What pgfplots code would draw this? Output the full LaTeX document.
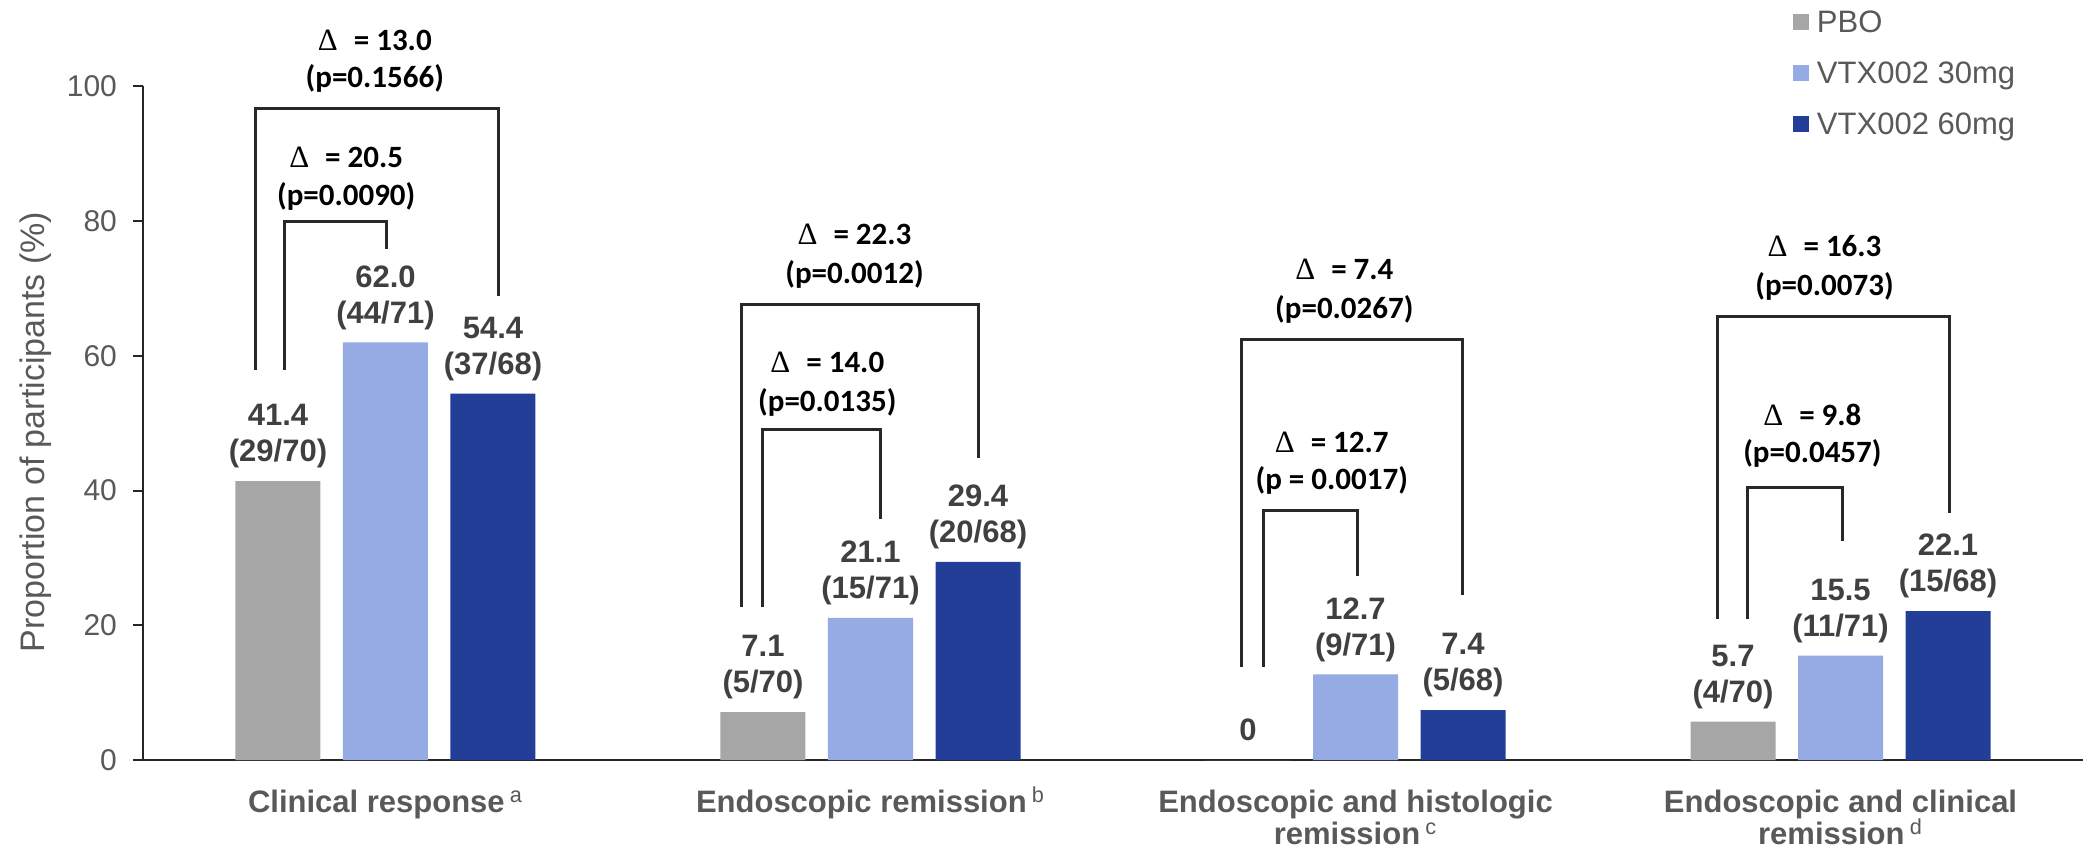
\documentclass[border=0pt]{standalone}
\usepackage{fontspec}
\setmainfont{Liberation Sans}
\newfontfamily\annfont{Carlito}
\newfontfamily\deltafont{Liberation Serif}
\usepackage{pgfplots}
\pgfplotsset{compat=1.18}
\definecolor{cPBO}{RGB}{166,166,166}
\definecolor{cL}{RGB}{150,170,228}
\definecolor{cD}{RGB}{35,62,150}
\definecolor{txtgray}{RGB}{89,89,89}
\definecolor{lblgray}{RGB}{64,64,64}
\definecolor{brk}{RGB}{40,40,40}
\newcommand{\dlt}[1]{{\deltafont\mdseries Δ}\hspace{8pt}= #1}
\newcommand{\sups}[1]{\,\smash{\textsuperscript{\mdseries #1}}}
\def\zmeta{Z}
\pgfplotsset{legsq/.style={legend image code/.code={\fill[##1] (0pt,-2.75pt) rectangle (8pt,5.25pt);}}}
\tikzset{ann/.style={anchor=base, inner sep=0pt, font=\annfont\bfseries\fontsize{15.5}{15.5}\selectfont, text=black},
  br/.style={draw=brk, line width=1.5pt}}
\begin{document}
\begin{tikzpicture}
\begin{axis}[
  width=970pt, height=336.75pt, scale only axis,
  xmin=-0.5, xmax=3.5, ymin=0, ymax=100,
  clip=false,
  axis x line*=bottom, axis y line*=left,
  axis line style={draw=black!85, line width=1pt},
  ytick={0,20,40,60,80,100},
  xtick={0,1,2,3},
  xticklabels={{Clinical response\sups{a}},{Endoscopic remission\sups{b}},{Endoscopic and histologic\\remission\sups{c}},{Endoscopic and clinical\\remission\sups{d}}},
  tick align=outside,
  major tick length=5pt,
  xtick style={draw=none},
  ytick style={draw=black!85, line width=1pt},
  /pgf/number format/assume math mode=true,
  yticklabel style={font=\fontsize{15}{15}\selectfont, text=txtgray, xshift=-4.5pt},
  xticklabel style={font=\fontsize{15.5}{16}\selectfont\bfseries, text=txtgray, align=center, anchor=north, inner sep=0pt, yshift=-10pt},
  ylabel={Proportion of participants (\%)},
  ylabel style={font=\fontsize{17}{17}\selectfont, text=txtgray, at={(axis description cs:-0.0552,0.487)}, anchor=center},
  ybar=11.25pt, bar width=42.5pt,
  legend style={at={(axis description cs:0.8505,1.1136)}, anchor=north west, draw=none, fill=none, inner sep=0pt, outer sep=0pt, font=\fontsize{15.5}{15.5}\selectfont, text=txtgray, row sep=11pt, nodes={inner sep=0pt, text height=11.5pt, text depth=3pt}, /tikz/every odd column/.style={column sep=4pt}},
  legend cell align=left,
  visualization depends on={y \as \myy},
  point meta=explicit symbolic,
  nodes near coords={\edef\tmpm{\pgfplotspointmeta}\ifx\tmpm\zmeta\vphantom{(}0\else\pgfmathprintnumber[fixed,fixed zerofill,precision=1]{\myy}\\(\pgfplotspointmeta)\fi},
  every node near coord/.append style={font=\bfseries\fontsize{15.5}{18}\selectfont, text=lblgray, align=center, anchor=south, inner sep=0pt, yshift=6.2pt},
]
\addplot[fill=cPBO, draw=none, legsq] coordinates {(0,41.4) [29/70] (1,7.1) [5/70] (2,0) [Z] (3,5.7) [4/70]};
\addplot[fill=cL, draw=none, legsq] coordinates {(0,62.0) [44/71] (1,21.1) [15/71] (2,12.7) [9/71] (3,15.5) [11/71]};
\addplot[fill=cD, draw=none, legsq] coordinates {(0,54.4) [37/68] (1,29.4) [20/68] (2,7.4) [5/68] (3,22.1) [15/68]};
\legend{PBO, VTX002 30mg, VTX002 60mg}

% cluster 1
\draw[br] (axis cs:-0.269,57.9) -- (axis cs:-0.269,96.8) -- (axis cs:0.232,96.8) -- (axis cs:0.232,68.9);
\draw[br] (axis cs:-0.209,57.9) -- (axis cs:-0.209,80.0) -- (axis cs:0.003,80.0) -- (axis cs:0.003,75.9);
\node[ann] at (axis cs:-0.022,105.4) {\dlt{13.0}};
\node[ann] at (axis cs:-0.022,99.8) {(p=0.1566)};
\node[ann] at (axis cs:-0.081,88.0) {\dlt{20.5}};
\node[ann] at (axis cs:-0.081,82.4) {(p=0.0090)};
% cluster 2
\draw[br] (axis cs:0.734,22.7) -- (axis cs:0.734,67.7) -- (axis cs:1.223,67.7) -- (axis cs:1.223,44.8);
\draw[br] (axis cs:0.777,22.7) -- (axis cs:0.777,49.1) -- (axis cs:1.021,49.1) -- (axis cs:1.021,35.8);
\node[ann] at (axis cs:0.967,76.5) {\dlt{22.3}};
\node[ann] at (axis cs:0.967,70.8) {(p=0.0012)};
\node[ann] at (axis cs:0.911,57.5) {\dlt{14.0}};
\node[ann] at (axis cs:0.911,51.8) {(p=0.0135)};
% cluster 3
\draw[br] (axis cs:1.765,13.8) -- (axis cs:1.765,62.5) -- (axis cs:2.221,62.5) -- (axis cs:2.221,24.5);
\draw[br] (axis cs:1.810,13.8) -- (axis cs:1.810,37.1) -- (axis cs:2.004,37.1) -- (axis cs:2.004,27.3);
\node[ann] at (axis cs:1.977,71.4) {\dlt{7.4}};
\node[ann] at (axis cs:1.977,65.5) {(p=0.0267)};
\node[ann] at (axis cs:1.951,45.6) {\dlt{12.7}};
\node[ann] at (axis cs:1.951,40.1) {(p = 0.0017)};
% cluster 4
\draw[br] (axis cs:2.746,20.9) -- (axis cs:2.746,65.8) -- (axis cs:3.225,65.8) -- (axis cs:3.225,36.7);
\draw[br] (axis cs:2.808,20.9) -- (axis cs:2.808,40.4) -- (axis cs:3.004,40.4) -- (axis cs:3.004,32.5);
\node[ann] at (axis cs:2.967,74.7) {\dlt{16.3}};
\node[ann] at (axis cs:2.967,69.0) {(p=0.0073)};
\node[ann] at (axis cs:2.942,49.7) {\dlt{9.8}};
\node[ann] at (axis cs:2.942,44.1) {(p=0.0457)};

\coordinate (bbSW) at (rel axis cs:-0.0737,-0.13066);
\coordinate (bbNE) at (rel axis cs:1.00412,1.12843);
\end{axis}
\pgfresetboundingbox
\path[use as bounding box] (bbSW) rectangle (bbNE);
\end{tikzpicture}
\end{document}
